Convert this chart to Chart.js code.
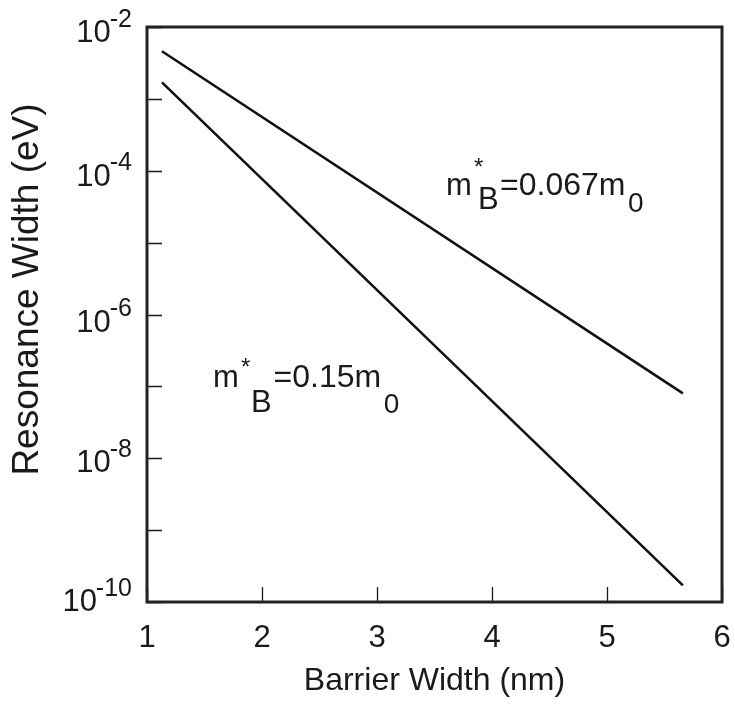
<!DOCTYPE html>
<html><head><meta charset="utf-8">
<script src="https://cdn.jsdelivr.net/npm/chart.js@4/dist/chart.umd.min.js"></script>
<style>html,body{margin:0;padding:0;background:#fff;}#wrap{width:735px;height:704px;}</style>
</head><body><div id="wrap"><canvas id="c" width="735" height="704"></canvas></div>
<script>
// ---- data ----
const barrierWidth = [1.13, 5.66];          // nm
const width067 = [4.6e-3, 8.0e-8];          // eV, m*B = 0.067 m0
const width015 = [1.7e-3, 1.7e-10];         // eV, m*B = 0.15 m0
const xTickValues = [1, 2, 3, 4, 5, 6];
const yDecadeExps = [-10, -9, -8, -7, -6, -5, -4, -3, -2];
const yLabelExps = [-10, -8, -6, -4, -2];
const massLabels = ['0.067', '0.15'];
const labelAnchorX = [3.6, 1.574];
const labelAnchorY = [4.6e-5, 9.8e-8];
const yTitleText = 'Resonance Width (eV)';

const FONT = "'Liberation Sans', Arial, Helvetica, sans-serif";
const INK = '#1a1a1a';

// styling: small vertical nudges of the y tick labels (px), as in the original
const yLabelNudge = {'-2': 0, '-4': 0, '-6': 2, '-8': -1, '-10': -6};
// per-label typographic offsets (px)
const labelStyle = [
  {star:[28,-20], B:[32,14], eq:54, sub0:17},
  {star:[28,-12], B:[38,25], eq:60.5, sub0:26}
];

const decor = {
  id: 'decor',
  afterDraw(chart) {
    const ctx = chart.ctx, a = chart.chartArea;
    const xs = chart.scales.x, ys = chart.scales.y;
    ctx.save();
    // inward ticks
    ctx.strokeStyle = INK; ctx.lineWidth = 1.3;
    ctx.beginPath();
    yDecadeExps.forEach(e => {
      const y = Math.round(ys.getPixelForValue(Math.pow(10, e))) + 0.5;
      ctx.moveTo(a.left, y); ctx.lineTo(a.left + 15, y);
    });
    xTickValues.forEach(v => {
      const x = Math.round(xs.getPixelForValue(v)) + 0.5;
      ctx.moveTo(x, a.bottom); ctx.lineTo(x, a.bottom - 15);
    });
    ctx.stroke();
    // frame
    ctx.lineWidth = 3; ctx.strokeStyle = '#222';
    ctx.strokeRect(a.left, a.top, a.right - a.left, a.bottom - a.top);
    // y tick labels 10^n
    ctx.fillStyle = INK; ctx.textBaseline = 'alphabetic';
    const rightEdge = a.left - 15;
    yLabelExps.forEach(e => {
      const y = ys.getPixelForValue(Math.pow(10, e)) + (yLabelNudge[String(e)] || 0);
      const sup = String(e);
      ctx.font = '25px ' + FONT;
      const sw = ctx.measureText(sup).width;
      ctx.textAlign = 'left';
      ctx.fillText(sup, rightEdge - sw, y - 0.5);
      ctx.font = '31px ' + FONT;
      ctx.textAlign = 'right';
      ctx.fillText('10', rightEdge - sw + 1, y + 15);
    });
    // y axis title
    ctx.save();
    ctx.translate(28, (a.top + a.bottom) / 2 - 25);
    ctx.rotate(-Math.PI / 2);
    ctx.font = '37px ' + FONT;
    ctx.textAlign = 'center'; ctx.textBaseline = 'middle';
    ctx.fillText(yTitleText, 0, 0);
    ctx.restore();
    // annotations
    ctx.textAlign = 'left'; ctx.textBaseline = 'alphabetic';
    massLabels.forEach((m, i) => {
      const ox = xs.getPixelForValue(labelAnchorX[i]);
      const oy = ys.getPixelForValue(labelAnchorY[i]);
      const s = labelStyle[i];
      ctx.font = '31px ' + FONT;
      ctx.fillText('m', ox, oy);
      ctx.fillText('B', ox + s.B[0], oy + s.B[1]);
      ctx.font = '32px ' + FONT;
      const eqText = '=' + m + 'm';
      ctx.fillText(eqText, ox + s.eq, oy);
      const w = ctx.measureText(eqText).width;
      ctx.font = '24px ' + FONT;
      ctx.fillText('*', ox + s.star[0], oy + s.star[1]);
      ctx.font = '28px ' + FONT;
      ctx.fillText('0', ox + s.eq + w + 2.5, oy + s.sub0);
    });
    ctx.restore();
  }
};

const mk = (xsArr, ysArr) => xsArr.map((x, i) => ({x, y: ysArr[i]}));

new Chart(document.getElementById('c'), {
  type: 'line',
  data: {
    datasets: [
      {label: 'm*B=0.067m0', data: mk(barrierWidth, width067), borderColor: '#111', borderWidth: 2.6, pointRadius: 0, fill: false, tension: 0},
      {label: 'm*B=0.15m0', data: mk(barrierWidth, width015), borderColor: '#111', borderWidth: 2.6, pointRadius: 0, fill: false, tension: 0}
    ]
  },
  options: {
    responsive: false,
    animation: false,
    devicePixelRatio: 1,
    layout: {padding: {top: 27, right: 13, left: 0, bottom: 0}},
    plugins: {legend: {display: false}, tooltip: {enabled: false}},
    scales: {
      x: {
        type: 'linear', min: 1, max: 6,
        afterBuildTicks: s => { s.ticks = xTickValues.map(v => ({value: v})); },
        afterFit: s => { s.height = 102; s.paddingLeft = 0; s.paddingRight = 0; },
        grid: {display: false, drawTicks: false},
        border: {display: false},
        ticks: {font: {family: FONT, size: 31}, color: INK, padding: 18, maxRotation: 0},
        title: {display: true, text: 'Barrier Width (nm)', color: INK,
                font: {family: FONT, size: 32, lineHeight: 1.2}, padding: {top: 0, bottom: 4}}
      },
      y: {
        type: 'logarithmic', min: 1e-10, max: 1e-2,
        afterBuildTicks: s => { s.ticks = yDecadeExps.map(e => ({value: Math.pow(10, e)})); },
        afterFit: s => { s.width = 147; s.paddingTop = 0; s.paddingBottom = 0; },
        grid: {display: false, drawTicks: false},
        border: {display: false},
        ticks: {display: false},
        title: {display: false}
      }
    }
  },
  plugins: [decor]
});
</script></body></html>
